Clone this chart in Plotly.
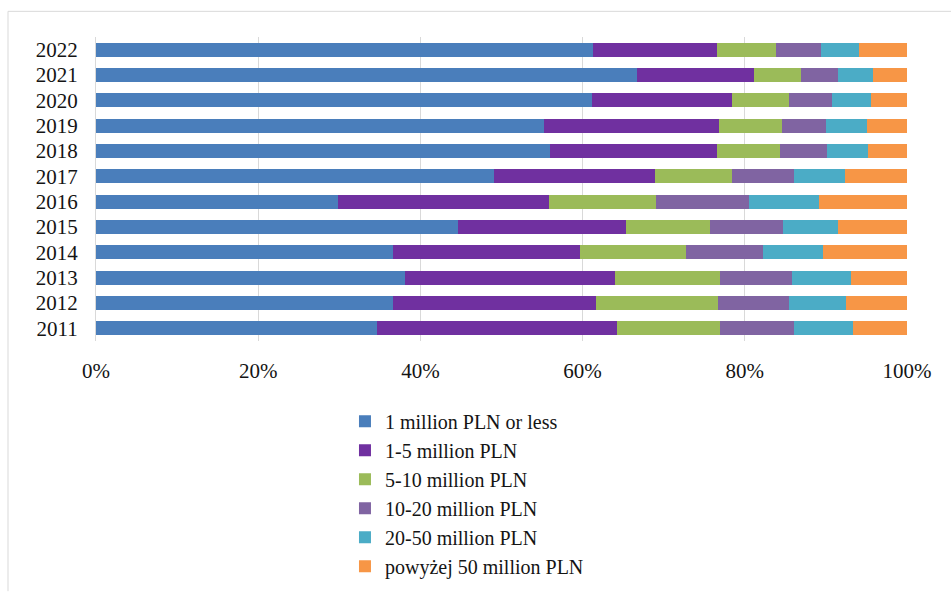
import plotly.graph_objects as go

years = ["2011", "2012", "2013", "2014", "2015", "2016", "2017", "2018", "2019", "2020", "2021", "2022"]
series_names = ["1 million PLN or less", "1-5 million PLN", "5-10 million PLN",
                "10-20 million PLN", "20-50 million PLN", "powyżej 50 million PLN"]

s_le1 = [34.6, 36.6, 38.1, 36.6, 44.6, 29.9, 49.1, 56.0, 55.3, 61.2, 66.7, 61.3]
s_1_5 = [29.6, 25.1, 25.9, 23.1, 20.7, 25.9, 19.8, 20.6, 21.5, 17.2, 14.4, 15.3]
s_5_10 = [12.7, 15.0, 12.9, 13.0, 10.4, 13.2, 9.5, 7.8, 7.8, 7.0, 5.8, 7.2]
s_10_20 = [9.2, 8.8, 8.9, 9.6, 9.0, 11.5, 7.7, 5.7, 5.4, 5.3, 4.6, 5.6]
s_20_50 = [7.2, 7.0, 7.3, 7.3, 6.8, 8.7, 6.2, 5.1, 5.1, 4.9, 4.3, 4.7]
s_gt50 = [6.7, 7.5, 6.9, 10.4, 8.5, 10.8, 7.7, 4.8, 4.9, 4.4, 4.2, 5.9]

tick_vals = [0, 20, 40, 60, 80, 100]
tick_text = ["0%", "20%", "40%", "60%", "80%", "100%"]

colors = ["#4a7ebb", "#7030a0", "#9bbb59", "#8064a2", "#4bacc6", "#f79646"]
series = [s_le1, s_1_5, s_5_10, s_10_20, s_20_50, s_gt50]

FONT = "Liberation Serif"
TXT = "#141414"

fig = go.Figure()
for name, vals, col in zip(series_names, series, colors):
    fig.add_trace(go.Bar(
        y=years, x=vals, name=name, orientation="h",
        marker=dict(color=col, line=dict(width=0)),
        hoverinfo="x+y+name",
    ))

fig.update_layout(
    width=951, height=598,
    barmode="stack",
    bargap=0.44,
    plot_bgcolor="white",
    paper_bgcolor="white",
    font=dict(family=FONT, size=21, color=TXT),
    margin=dict(l=96, r=44, t=36.5, b=253.5),
    xaxis=dict(
        range=[0, 100], tickvals=tick_vals, ticktext=tick_text,
        showgrid=True, gridcolor="#d9d9d9", gridwidth=1,
        zeroline=False, showline=False, ticks="",
        ticklabelstandoff=15,
        tickfont=dict(family=FONT, size=21, color=TXT),
        fixedrange=True,
    ),
    yaxis=dict(
        type="category", categoryorder="array", categoryarray=years,
        showline=True, linecolor="#d9d9d9", linewidth=1,
        showgrid=False, ticks="", ticklabelstandoff=13,
        tickfont=dict(family=FONT, size=21, color=TXT),
        fixedrange=True,
    ),
    legend=dict(
        orientation="v", x=0.307, xanchor="left", y=-0.2, yanchor="top",
        font=dict(family=FONT, size=20, color=TXT),
        traceorder="normal", itemclick=False, itemdoubleclick=False,
        bgcolor="rgba(0,0,0,0)",
    ),
    shapes=[
        dict(type="line", xref="paper", yref="paper", x0=-0.1085, x1=1.06, y0=1.0844, y1=1.0844,
             line=dict(color="#d9d9d9", width=1)),
        dict(type="line", xref="paper", yref="paper", x0=-0.1085, x1=-0.1085, y0=1.0844, y1=-0.823,
             line=dict(color="#d9d9d9", width=1)),
    ],
)

fig.write_html("out.html")
